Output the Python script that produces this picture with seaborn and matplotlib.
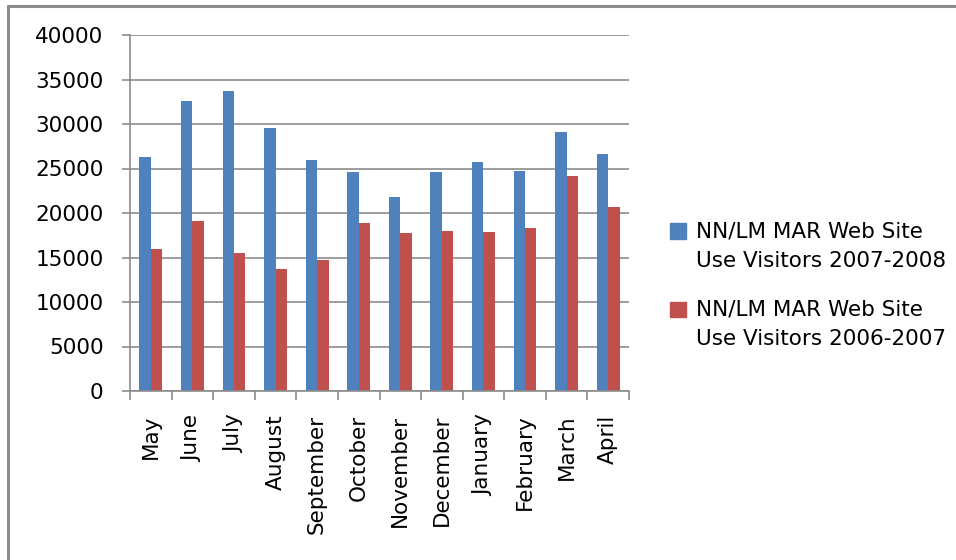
from matplotlib import pyplot as plt
from matplotlib.lines import Line2D
from matplotlib.patches import Rectangle
from matplotlib.legend_handler import HandlerPatch
import pandas as pd
import seaborn as sns

months = ['May', 'June', 'July', 'August', 'September', 'October', 'November',
          'December', 'January', 'February', 'March', 'April']
visitors_0708 = [26300, 32550, 33700, 29500, 25900, 24600, 21850, 24600,
                 25750, 24750, 29050, 26650]
visitors_0607 = [16000, 19050, 15550, 13700, 14700, 18850, 17700, 18000,
                 17850, 18300, 24200, 20700]
series_names = ['NN/LM MAR Web Site\nUse Visitors 2007-2008',
                'NN/LM MAR Web Site\nUse Visitors 2006-2007']

df = pd.DataFrame({
    'Month': months * 2,
    'Visitors': visitors_0708 + visitors_0607,
    'Series': [series_names[0]] * 12 + [series_names[1]] * 12,
})

sns.set_style("white")
plt.rcParams['font.family'] = ['DejaVu Sans']
plt.rcParams['text.color'] = 'black'
plt.rcParams['xtick.color'] = 'black'
plt.rcParams['ytick.color'] = 'black'

fig = plt.figure(figsize=(9.56, 5.6), dpi=100)
ax = fig.add_axes([130 / 956, 1 - 391 / 560, 499 / 956, 356 / 560])

sns.barplot(data=df, x='Month', y='Visitors', hue='Series', order=months,
            hue_order=series_names, palette=['#4F81BD', '#C0504D'],
            width=0.55, saturation=1, linewidth=0, ax=ax, legend=False)

ax.set_ylim(0, 40000)
ax.set_xlim(-0.5, 11.5)
ax.set_yticks(range(0, 40001, 5000))
ax.yaxis.grid(True, color='#8c8c8c', linewidth=1.2)
ax.set_axisbelow(True)
ax.set_xlabel('')
ax.set_ylabel('')

for s in ['top', 'right']:
    ax.spines[s].set_visible(False)
for s in ['left', 'bottom']:
    ax.spines[s].set_color('#8c8c8c')
    ax.spines[s].set_linewidth(1.2)

ax.set_xticks(range(12))
ax.set_xticklabels(months, rotation=90, fontsize=15.5)
ax.set_xticks([i - 0.5 for i in range(13)], minor=True)
ax.tick_params(axis='x', which='both', bottom=True)
ax.tick_params(axis='x', which='major', length=0, pad=17)
ax.tick_params(axis='x', which='minor', length=6.5, color='#8c8c8c', width=1.2,
               direction='out')
ax.tick_params(axis='y', left=True, length=6, color='#8c8c8c', width=1.2,
               labelsize=15.5, pad=13, direction='out')


def first_line_square(legend, orig_handle, xdescent, ydescent, width, height,
                      fontsize):
    # square next to the first line of a two-line label
    side = width
    return Rectangle((xdescent, ydescent + height - side + 0.42 * fontsize),
                     side, side)


handles = [Rectangle((0, 0), 1, 1, color='#4F81BD'),
           Rectangle((0, 0), 1, 1, color='#C0504D')]
leg = fig.legend(handles, series_names, loc='center left',
                 bbox_to_anchor=(670 / 956, 1 - 285 / 560), frameon=False,
                 fontsize=15.5, handlelength=0.72, handleheight=1.0,
                 handletextpad=0.5, labelspacing=1.33, borderpad=0,
                 borderaxespad=0,
                 handler_map={Rectangle: HandlerPatch(patch_func=first_line_square)})
for t in leg.get_texts():
    t.set_linespacing(1.6)

fig.add_artist(Line2D([7.5 / 956, 7.5 / 956], [0, 1 - 6 / 560],
                      color='#8c8c8c', linewidth=2.2, transform=fig.transFigure))
fig.add_artist(Line2D([7.5 / 956, 1], [1 - 6 / 560, 1 - 6 / 560],
                      color='#8c8c8c', linewidth=2.2, transform=fig.transFigure))

fig.savefig('out.png', dpi=100)
